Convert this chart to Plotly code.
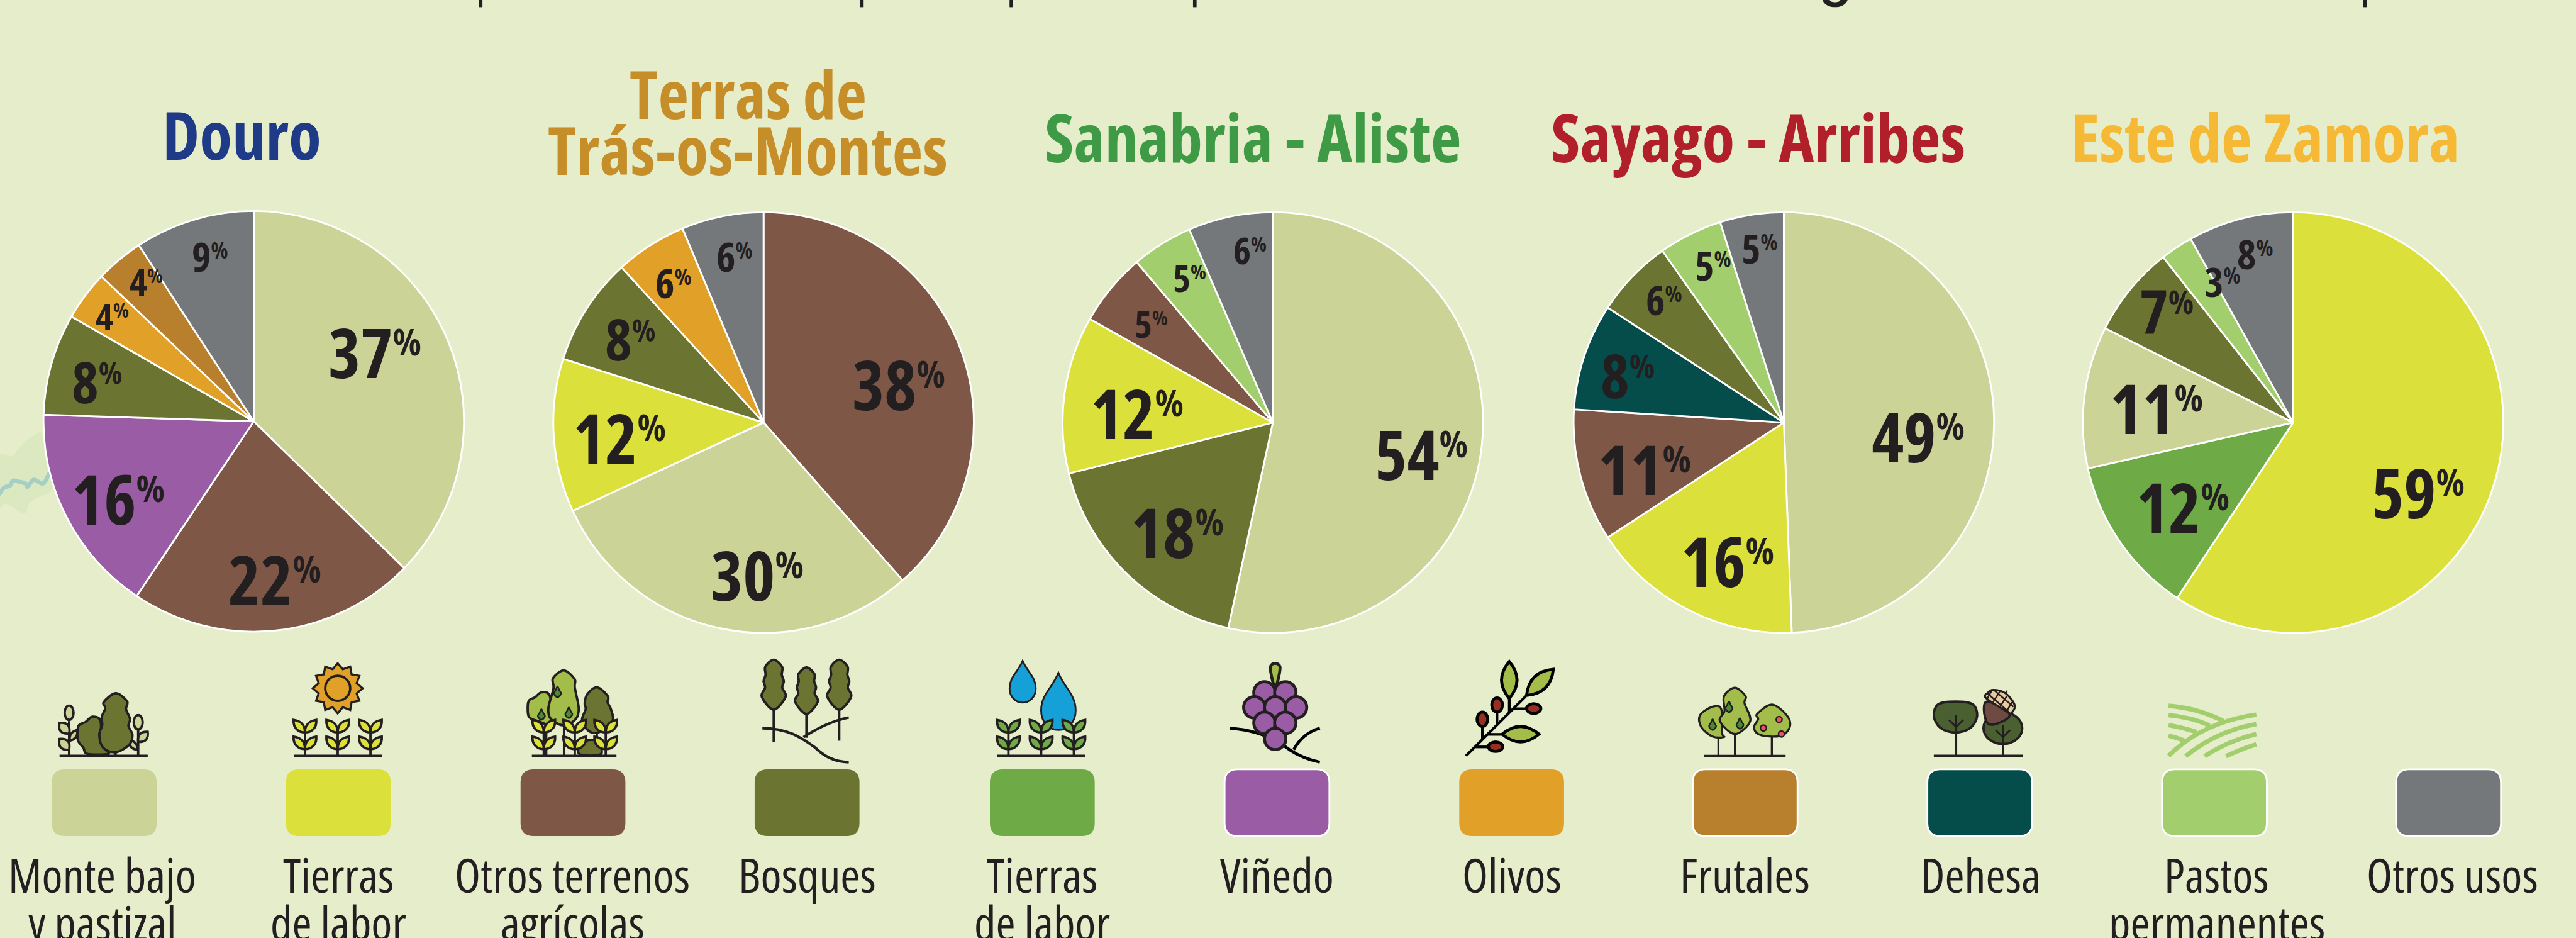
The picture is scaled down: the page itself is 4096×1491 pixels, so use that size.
import math
import plotly.graph_objects as go

W, H = 4096, 1491
RW, RH = 4325, 1574
S = W / RW

# ---------- data ----------
categories = ["monte", "labor", "otros_terrenos", "bosques", "labor_2", "vinedo",
              "olivos", "frutales", "dehesa", "pastos", "otros_usos"]
category_colors = ["#CBD396", "#DBE03A", "#7E5746", "#6B7431", "#6EAB47", "#9A5CA5",
                   "#E1A027", "#B87F2C", "#054D4B", "#A2CE6E", "#75787B"]
legend_line1 = ["Monte bajo", "Tierras", "Otros terrenos", "Bosques", "Tierras", "Viñedo",
                "Olivos", "Frutales", "Dehesa", "Pastos", "Otros usos"]
legend_line2 = ["y pastizal", "de labor", "agrícolas", "", "de labor", "", "", "", "", "permanentes", ""]

region_names = ["Douro", "Terras de Trás-os-Montes", "Sanabria - Aliste", "Sayago - Arribes", "Este de Zamora"]
douro_cats = ["monte", "otros_terrenos", "vinedo", "bosques", "olivos", "frutales", "otros_usos"]
douro_vals = [37.3, 22.1, 16.1, 7.8, 3.8, 3.7, 9.2]
douro_labels = [37, 22, 16, 8, 4, 4, 9]
terras_cats = ["otros_terrenos", "monte", "labor", "bosques", "olivos", "otros_usos"]
terras_vals = [38.5, 29.6, 11.8, 8.3, 5.5, 6.3]
terras_labels = [38, 30, 12, 8, 6, 6]
sanabria_cats = ["monte", "bosques", "labor", "otros_terrenos", "pastos", "otros_usos"]
sanabria_vals = [53.4, 17.7, 12.1, 5.6, 4.7, 6.5]
sanabria_labels = [54, 18, 12, 5, 5, 6]
sayago_cats = ["monte", "labor", "otros_terrenos", "dehesa", "bosques", "pastos", "otros_usos"]
sayago_vals = [49.4, 16.4, 10.2, 8.2, 6.0, 4.9, 4.9]
sayago_labels = [49, 16, 11, 8, 6, 5, 5]
este_cats = ["labor", "labor_2", "monte", "bosques", "pastos", "otros_usos"]
este_vals = [59.3, 12.2, 10.9, 7.0, 2.5, 8.1]
este_labels = [59, 12, 11, 7, 3, 8]

# ---------- layout (reference pixels) ----------
BG = "#E6EDCB"
INK = "#231F20"
FONT = "Open Sans"
pie_centers = [(426, 707), (1282, 709), (2137, 709), (2995, 709), (3850, 709)]
pie_r = 353
pie_cats = [douro_cats, terras_cats, sanabria_cats, sayago_cats, este_cats]
pie_vals = [douro_vals, terras_vals, sanabria_vals, sayago_vals, este_vals]
pie_labels = [douro_labels, terras_labels, sanabria_labels, sayago_labels, este_labels]
label_pos = [
    [(629, 590), (461, 971), (199, 836), (163, 640), (188, 530), (245, 472), (353, 430)],
    [(1509, 643), (1271, 963), (1040, 733), (1059, 568), (1131, 474), (1233, 430)],
    [(2386, 761), (1977, 891), (1909, 692), (1933, 543), (1997, 466), (2099, 419)],
    [(3221, 731), (2901, 940), (2761, 786), (2733, 629), (2794, 502), (2876, 444), (2954, 416)],
    [(4060, 825), (3665, 849), (3621, 684), (3638, 521), (3732, 472), (3787, 425)],
]
label_h = [
    [84, 84, 84, 70, 46, 46, 50],
    [84, 84, 84, 70, 50, 50],
    [84, 84, 84, 46, 46, 46],
    [84, 84, 84, 75, 50, 50, 50],
    [84, 84, 84, 75, 50, 50],
]
swatch_x = [175, 568, 962, 1355, 1750, 2144, 2538, 2930, 3324, 3718, 4111]
swatch_outline = [0, 0, 0, 0, 0, 1, 0, 1, 1, 1, 1]
legend_text_x = [172, 568, 961, 1355, 1750, 2144, 2538, 2930, 3326, 3722, 4118]
titles = [("Douro", 406, 268, "#1F3A86"),
          ("Terras de", 1256, 200, "#C68E28"),
          ("Trás-os-Montes", 1256, 294, "#C68E28"),
          ("Sanabria - Aliste", 2103, 273, "#3F9A46"),
          ("Sayago - Arribes", 2952, 273, "#B01F2A"),
          ("Este de Zamora", 3803, 273, "#F5B935")]

color_of = dict(zip(categories, category_colors))
name_of = {c: (a + " " + b).strip() for c, a, b in zip(categories, legend_line1, legend_line2)}
name_of["labor_2"] = "Tierras de labor (2)"


def px(x):
    return x / RW


def py(y):
    return 1 - y / RH


def P(s):
    out, i = [], 0
    for t in s.split():
        if t[0].isalpha():
            out.append(t)
            i = 0
        else:
            v = float(t)
            out.append(f"{(px(v) if i % 2 == 0 else py(v)):.6f}")
            i += 1
    return " ".join(out)


shapes = []


def add(path, fill=None, line=None, w=0, layer="above"):
    shapes.append(dict(type="path", xref="paper", yref="paper", path=P(path), layer=layer,
                       fillcolor=fill if fill else "rgba(0,0,0,0)",
                       line=dict(color=line if line else "rgba(0,0,0,0)", width=w * S)))


def smooth(pts, closed=True):
    n = len(pts)
    s = f"M {pts[0][0]:.2f} {pts[0][1]:.2f}"
    rng = n if closed else n - 1
    for i in range(rng):
        if closed:
            p0, p1, p2, p3 = pts[(i - 1) % n], pts[i], pts[(i + 1) % n], pts[(i + 2) % n]
        else:
            p0, p1, p2, p3 = pts[max(i - 1, 0)], pts[i], pts[i + 1], pts[min(i + 2, n - 1)]
        c1 = (p1[0] + (p2[0] - p0[0]) / 6, p1[1] + (p2[1] - p0[1]) / 6)
        c2 = (p2[0] - (p3[0] - p1[0]) / 6, p2[1] - (p3[1] - p1[1]) / 6)
        s += f" C {c1[0]:.2f} {c1[1]:.2f} {c2[0]:.2f} {c2[1]:.2f} {p2[0]:.2f} {p2[1]:.2f}"
    return s + (" Z" if closed else "")


def Z(ox, pts, sx=3.0, oy=1100):
    """zoom-crop coordinates to reference pixels"""
    return [(ox + x / sx, oy + y / 3) for x, y in pts]


def seg(x0, y0, x1, y1, w=4, c=INK):
    add(f"M {x0:.2f} {y0:.2f} L {x1:.2f} {y1:.2f}", line=c, w=w)


def ground(x0, x1):
    seg(x0, 1268.5, x1, 1268.5, 4.5)


def lens(x0, y0, x1, y1, b, fill, line=INK, w=4):
    mx, my = (x0 + x1) / 2, (y0 + y1) / 2
    dx, dy = x1 - x0, y1 - y0
    L = math.hypot(dx, dy)
    nx, ny = -dy / L * 2 * b, dx / L * 2 * b
    add(f"M {x0} {y0} Q {mx + nx:.2f} {my + ny:.2f} {x1} {y1} Q {mx - nx:.2f} {my - ny:.2f} {x0} {y0} Z",
        fill, line, w)


def plant_leaf(sx, by, s, fill, k=1.0):
    tx, ty = sx + s * 19 * k, by - 21 * k
    add(f"M {sx} {by} C {sx} {by - 13 * k} {sx + s * 6 * k} {by - 19 * k} {tx} {ty} "
        f"C {tx + s * 1} {by - 7 * k} {sx + s * 11 * k} {by} {sx} {by} Z", fill, INK, 4)


def plant(sx, fill, rows=(1229, 1257)):
    seg(sx, rows[0] - 8, sx, 1268)
    for by in rows:
        plant_leaf(sx, by, -1, fill)
        plant_leaf(sx, by, 1, fill)


def ellipse(cx, cy, rx, ry, fill, line=INK, w=4):
    k = 0.5523
    add(f"M {cx - rx} {cy} C {cx - rx} {cy - k * ry} {cx - k * rx} {cy - ry} {cx} {cy - ry} "
        f"C {cx + k * rx} {cy - ry} {cx + rx} {cy - k * ry} {cx + rx} {cy} "
        f"C {cx + rx} {cy + k * ry} {cx + k * rx} {cy + ry} {cx} {cy + ry} "
        f"C {cx - k * rx} {cy + ry} {cx - rx} {cy + k * ry} {cx - rx} {cy} Z", fill, line, w)


def blob(ox, pts, fill, w=4, line=INK, sx=3.0):
    add(smooth(Z(ox, pts, sx)), fill, line, w)


def pear(x, y):
    add(smooth([(x, y - 10), (x + 3, y - 4), (x + 6, y + 2), (x, y + 8), (x - 6, y + 2), (x - 3, y - 4)]),
        "#4A8A35", INK, 2.6)


def drop(cx, top, bot, hw, cy):
    k = bot - cy
    add(f"M {cx} {top} C {cx + hw * 0.35} {top + (cy - top) * 0.4} {cx + hw} {cy - k * 0.8} {cx + hw} {cy} "
        f"C {cx + hw} {cy + k * 0.6} {cx + hw * 0.55} {bot} {cx} {bot} "
        f"C {cx - hw * 0.55} {bot} {cx - hw} {cy + k * 0.6} {cx - hw} {cy} "
        f"C {cx - hw} {cy - k * 0.8} {cx - hw * 0.35} {top + (cy - top) * 0.4} {cx} {top} Z",
        "#16A0D8", INK, 3)


def cypress(cx, top, bot, hw):
    h = bot - top
    add(smooth([(cx, top), (cx + hw * 0.7, top + h * 0.14), (cx + hw * 0.68, top + h * 0.3),
                (cx + hw * 0.85, top + h * 0.43), (cx + hw * 0.72, top + h * 0.56),
                (cx + hw, top + h * 0.74), (cx, bot), (cx - hw, top + h * 0.74),
                (cx - hw * 0.72, top + h * 0.56), (cx - hw * 0.85, top + h * 0.43),
                (cx - hw * 0.68, top + h * 0.3), (cx - hw * 0.7, top + h * 0.14)]), "#6B7431", INK, 4)


# background fragments at left edge
add(smooth(Z(0, [(-10, 205), (60, 195), (100, 150), (130, 120), (190, 80), (215, 95), (245, 280), (280, 345),
                 (240, 385), (210, 395), (150, 430), (140, 455), (120, 485), (60, 450), (25, 435), (-10, 445)],
             oy=700)), "#DCE9C0", layer="below")
add(smooth(Z(0, [(-5, 390), (20, 355), (50, 345), (65, 320), (95, 325), (130, 335), (140, 350), (170, 315),
                 (215, 335), (240, 300), (250, 280)], oy=700), closed=False), line="#A3CFC6", w=7, layer="below")

# cropped text fragments on the top edge
for x in [807, 1447, 1698, 2006, 3971]:
    seg(x, -2, x, 12, 6)
add("M 3060 0 C 3063 8 3071 12 3081 12 C 3091 12 3099 8 3102 0 L 3090 0 C 3088 5 3074 5 3072 0 Z", INK)

# swatches
for cx, col, ol in zip(swatch_x, category_colors, swatch_outline):
    x0, x1, y0, y1, r = cx - 88, cx + 88, 1291, 1403, 22
    add(f"M {x0 + r} {y0} L {x1 - r} {y0} Q {x1} {y0} {x1} {y0 + r} L {x1} {y1 - r} Q {x1} {y1} {x1 - r} {y1} "
        f"L {x0 + r} {y1} Q {x0} {y1} {x0} {y1 - r} L {x0} {y0 + r} Q {x0} {y0} {x0 + r} {y0} Z",
        col, "#FFFFFF" if ol else None, 3 if ol else 0)

# --- icon: monte bajo ---
O = 70
LIGHT = "#CBD396"
seg(O + 46, 1210, O + 46, 1268)
seg(O + 162, 1225, O + 162, 1268)
ellipse(O + 46, 1196, 7.5, 12, LIGHT)
ellipse(O + 162, 1212, 7.5, 12, LIGHT)
lens(O + 46, 1231, O + 30, 1213, 8, LIGHT)
lens(O + 47, 1243, O + 60, 1225, 5, LIGHT)
lens(O + 46, 1258, O + 30, 1240, 8, LIGHT)
lens(O + 162, 1245, O + 178, 1228, -7, LIGHT)
lens(O + 160, 1258, O + 148, 1243, 5, LIGHT)
blob(O, [(255, 308), (295, 325), (300, 400), (320, 470), (335, 495), (230, 495), (210, 465), (182, 425),
         (185, 355), (220, 335)], "#6B7431")
seg(O + 124, 1258, O + 124, 1268)
blob(O, [(372, 190), (430, 230), (425, 270), (445, 320), (437, 355), (457, 400), (440, 450), (372, 487),
         (310, 465), (290, 400), (305, 350), (302, 310), (320, 265), (312, 235)], "#6B7431")
ground(100, 248)

# --- icon: tierras de labor (sun) ---
cx, cy = 567, 1155
pts = []
for i in range(12):
    a0 = i * math.pi / 6 - math.pi / 2
    a1 = a0 + math.pi / 12
    tip = (cx + 42 * math.cos(a0), cy + 42 * math.sin(a0))
    val = (cx + 33 * math.cos(a1), cy + 33 * math.sin(a1))
    pts.append(f"{'M' if i == 0 else 'L'} {tip[0]:.2f} {tip[1]:.2f} L {val[0]:.2f} {val[1]:.2f}")
add(" ".join(pts) + " Z", "#E1A027", INK, 3.5)
ellipse(cx, cy, 21, 21, "#E1A027")
for sx in [512, 567, 622]:
    plant(sx, "#DBE03A")
ground(494, 641)

# --- icon: otros terrenos agricolas ---
O = 860
LG = "#A3BD4A"
seg(O + 57, 1210, O + 57, 1268)
seg(O + 87, 1210, O + 87, 1268)
seg(O + 142, 1225, O + 142, 1268)
blob(O, [(148, 185), (190, 205), (195, 340), (130, 330), (85, 310), (78, 260), (85, 225), (115, 210)], LG)
blob(O, [(395, 425), (435, 440), (445, 497), (340, 497), (345, 445)], "#6B7431")
blob(O, [(428, 160), (482, 205), (480, 235), (497, 270), (505, 330), (440, 385), (385, 380), (352, 325),
         (370, 270), (365, 240), (378, 195)], "#6B7431")
blob(O, [(260, 75), (315, 120), (315, 160), (335, 265), (320, 320), (260, 352), (195, 320), (182, 265),
         (208, 165), (205, 115)], LG)
pear(O + 76, 1162)
pear(O + 49, 1200)
pear(O + 95, 1197)
for sx in [913, 965, 1017]:
    plant(sx, "#DBE03A")
ground(893, 1035)

# --- icon: bosques ---
seg(1299, 1185, 1299, 1245)
seg(1354, 1195, 1354, 1238)
seg(1409, 1185, 1409, 1243)
cypress(1299, 1107, 1191, 20)
cypress(1354, 1120, 1198, 19)
cypress(1409, 1107, 1191, 20)
add("M 1280 1222 C 1325 1222 1348 1240 1368 1254 C 1385 1270 1400 1278 1425 1279", line=INK, w=4.5)
add("M 1349 1237 C 1372 1222 1395 1210 1425 1204", line=INK, w=4.5)

# --- icon: tierras de labor (water) ---
drop(1717, 1109, 1179, 22, 1155)
drop(1777, 1129, 1225, 29, 1192)
for sx in [1693, 1748, 1803]:
    plant(sx, "#6EAB47")
ground(1674, 1822)

# --- icon: vinedo ---
add("M 2065 1222 C 2100 1224 2135 1235 2165 1258 C 2180 1268 2198 1275 2216 1279", line="#000000", w=5)
add("M 2216 1222 C 2195 1228 2182 1240 2172 1258", line="#000000", w=5)
add(smooth([(2141, 1113), (2149, 1119), (2146, 1140), (2141, 1154), (2136, 1140), (2133, 1119)]), "#A3BD4A", INK, 5)
for gx, gy in [(2123, 1162), (2158, 1162), (2106, 1187), (2141, 1187), (2176, 1187), (2123, 1213), (2158, 1213),
               (2141, 1240)]:
    ellipse(gx, gy, 18, 18, "#9A5CA5", INK, 5)

# --- icon: olivos (crop x scale 2.6133) ---
O = 2420
ZS = 2.6133
K = "#000000"
RED = "#982E20"
for a, b, c, d in [(108, 505, 370, 205), (298, 215, 298, 290), (244, 290, 244, 345), (180, 360, 180, 420),
                   (320, 268, 370, 268), (150, 460, 200, 460), (205, 397, 265, 397)]:
    seg(O + a / ZS, 1100 + b / 3, O + c / ZS, 1100 + d / 3, 4.5, K)
lens(2534, 1110, 2534, 1172, 13, "#A3BD4A", K, 5)
lens(2608, 1123, 2563, 1167, 13, "#A3BD4A", K, 5)
lens(2522, 1232, 2584, 1232, 13, "#A3BD4A", K, 5)
ellipse(2513.5, 1183, 9, 12, RED, K, 5)
ellipse(2489, 1207, 9, 12, RED, K, 5)
ellipse(2575, 1189, 12, 8, RED, K, 5)
ellipse(2511, 1253, 12, 8, RED, K, 5)

# --- icon: frutales ---
seg(O + 1215 / ZS, 1235, O + 1215 / ZS, 1267, 3)
seg(O + 1288 / ZS, 1230, O + 1288 / ZS, 1267, 3.5)
seg(O + 1450 / ZS, 1235, O + 1450 / ZS, 1267, 3.5)
blob(O, [(1190, 258), (1228, 270), (1232, 390), (1240, 410), (1190, 408), (1140, 360), (1135, 300)], "#A3BD4A", 3.5, sx=ZS)
blob(O, [(1288, 162), (1335, 205), (1330, 240), (1355, 330), (1288, 395), (1222, 330), (1242, 280), (1240, 205)],
     "#A3BD4A", 3.5, sx=ZS)
blob(O, [(1450, 247), (1515, 300), (1530, 355), (1500, 400), (1450, 408), (1390, 395), (1372, 360), (1390, 320),
         (1385, 295)], "#A3BD4A", 3.5, sx=ZS)
pear(O + 1190 / ZS, 1217)
pear(O + 1262 / ZS, 1187)
pear(O + 1310 / ZS, 1215)
for ax, ay in [(1482, 322), (1413, 365), (1492, 395)]:
    ellipse(O + ax / ZS, 1100 + ay / 3, 5, 5, "#EE4F6F", INK, 2.5)
seg(2861, 1268.5, 2998, 1268.5, 4)

# --- icon: dehesa ---
O = 3220
ground(O + 70 / ZS, O + 460 / ZS)
add(smooth(Z(O, [(165, 232), (240, 245), (260, 305), (230, 365), (165, 388), (100, 365), (70, 305), (90, 245)], ZS)),
    "#4A6030", INK, 4)
ellipse(O + 373 / ZS, 1222, 32.5, 26.5, "#4A6030")
for tx, ty in [(O + 168 / ZS, 1200), (O + 373 / ZS, 1217)]:
    seg(tx, ty, tx, 1267, 3.5)
    seg(tx, ty + 20, tx - 12, ty + 8, 3)
    seg(tx, ty + 20, tx + 12, ty + 8, 3)
add(smooth(Z(O, [(310, 232), (400, 290), (375, 330), (310, 345), (290, 270)], ZS)), "#6F4A43", INK, 4)
add(smooth(Z(O, [(330, 173), (385, 190), (425, 250), (410, 290), (395, 285), (300, 215), (305, 190)], ZS)),
    "#E8C9A0", INK, 3.5)
for a, b, c, d in [(325, 176, 305, 215), (360, 180, 330, 235), (390, 205, 360, 258), (413, 235, 390, 280),
                   (305, 190, 400, 285), (335, 175, 420, 258)]:
    seg(O + a / ZS, 1100 + b / 3, O + c / ZS, 1100 + d / 3, 2.6)
seg(O + 385 / ZS, 1164, O + 392 / ZS, 1159, 2.5)

# --- icon: pastos ---
for a in [(1100, 253, 1230, 265, 1340, 330), (1100, 300, 1200, 310, 1280, 352), (1100, 350, 1170, 365, 1222, 385),
          (1100, 403, 1140, 415, 1172, 430), (1100, 505, 1250, 335, 1485, 298), (1175, 507, 1310, 380, 1485, 345),
          (1258, 507, 1360, 430, 1485, 395), (1352, 507, 1420, 470, 1485, 447)]:
    r = [O + a[0] / ZS, 1100 + a[1] / 3, O + a[2] / ZS, 1100 + a[3] / 3, O + a[4] / ZS, 1100 + a[5] / 3]
    add(f"M {r[0]:.2f} {r[1]:.2f} Q {r[2]:.2f} {r[3]:.2f} {r[4]:.2f} {r[5]:.2f}", line="#A2CE6E", w=7.5)

# ---------- traces ----------
fig = go.Figure()
for name, (cx, cy), cats, vals in zip(region_names, pie_centers, pie_cats, pie_vals):
    fig.add_trace(go.Pie(
        name=name,
        labels=[name_of[c] for c in cats],
        values=vals,
        sort=False,
        direction="clockwise",
        rotation=0,
        textinfo="none",
        hoverinfo="label+percent",
        showlegend=False,
        marker=dict(colors=[color_of[c] for c in cats], line=dict(color="#FFFFFF", width=3 * S)),
        domain=dict(x=[px(cx - pie_r), px(cx + pie_r)], y=[py(cy + pie_r), py(cy - pie_r)]),
    ))

# ---------- text ----------
CAP = 0.714
MID = 0.388   # middle of line box above the baseline, in em
ann = []


def text(t, x, y, size, color, weight=400, anchor="center"):
    ann.append(dict(text=f"<span style='font-stretch:condensed'>{t}</span>", x=px(x), y=py(y),
                    xref="paper", yref="paper", xanchor=anchor, yanchor="middle",
                    showarrow=False, align="center", borderpad=0,
                    font=dict(size=size, color=color, family=FONT, weight=weight)))


TS = 112
for t, x, base, col in titles:
    text(t, x, base - MID * TS, TS * S, col, 700)

LS = 79.5
for a, b, x in zip(legend_line1, legend_line2, legend_text_x):
    text(a, x, 1498 - MID * LS, LS * S, INK)
    if b:
        text(b, x, 1578 - MID * LS, LS * S, INK)

for labels, poss, hs in zip(pie_labels, label_pos, label_h):
    for v, (x, y), h in zip(labels, poss, hs):
        fs = h / CAP * 0.98
        pct = f"<span style='font-size:{fs * S * 0.54:.1f}px;baseline-shift:{fs * S * 0.33:.1f}px'>%</span>"
        text(f"{v}{pct}", x, y, fs * S, INK, 700)

fig.update_layout(
    width=W, height=H,
    margin=dict(l=0, r=0, t=0, b=0),
    paper_bgcolor=BG, plot_bgcolor=BG,
    showlegend=False,
    shapes=shapes,
    annotations=ann,
)
fig.write_html("out.html", config=dict(displayModeBar=False),
               post_script="document.body.style.margin='0';document.body.style.overflow='hidden';"
                           f"document.body.style.background='{BG}';")
